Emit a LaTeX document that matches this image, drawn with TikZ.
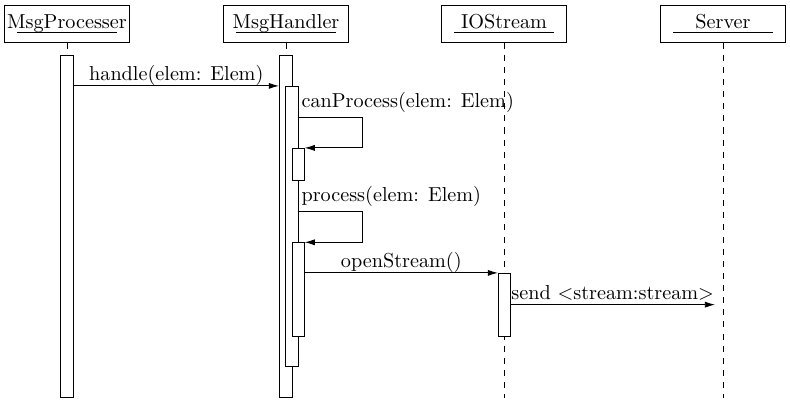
\documentclass[tikz,border=0pt]{standalone}
\usetikzlibrary{fit,arrows.meta}
\begin{document}
\begin{tikzpicture}[x=0.495pt,y=-0.495pt,
    obj/.style={draw,minimum width=61.9pt,minimum height=18.3pt,
        inner xsep=0.5pt,text height=7.5pt,text depth=2.3pt},
    act/.style={draw,fill=white,inner sep=0pt},
    life/.style={dashed},
    msg/.style={-{Latex[length=5pt,width=3pt]}},
    lbl/.style={midway,anchor=base,inner sep=0pt,yshift=2.5pt},
    call/.style={anchor=base west,inner sep=0pt,xshift=1.2pt,yshift=5pt}]
    \useasboundingbox (0,0) rectangle (790,409);
    %% Objects
    \node[obj] (mp) at (67,23.7) {MsgProcesser};
    \node[obj] (mh) at (286,23.7) {MsgHandler};
    \node[obj] (io) at (504,23.7) {IOStream};
    \node[obj] (sv) at (723,23.7) {Server};
    \foreach \o in {mp,mh,io,sv}
        \draw ([shift={(-50,8.6)}]\o.center) -- ++(100,0);
    %% Lifelines
    \coordinate (bot) at (0,398);
    \foreach \o in {mp,mh,io,sv}
        \draw[life] (\o.south) -- (\o.south |- bot);
    %% Activations
    \node[act,fit={(60,55.5) (73.3,397.5)}] (mpA) {};
    \node[act,fit={(279.3,55.5) (292.7,397.5)}] (mhA) {};
    \node[act,fit={(285.7,86.3) (298.3,366.7)}] (mhB) {};
    \node[act,fit={(292.3,148.3) (304.3,180)}] (cp) {};
    \node[act,fit={(292.3,242.7) (304.3,336)}] (pr) {};
    \node[act,fit={(498.3,273.3) (510,336)}] (ioA) {};
    %% Messages
    \draw[msg] (mpA.east |- mhB.north) -- (mhA.west |- mhB.north)
        node[lbl] {handle(elem: Elem)};
    \coordinate (cpL) at (362,117.3);
    \draw[msg] (mhB.east |- cpL) node[call] {canProcess(elem: Elem)}
        -- (cpL) -- (cpL |- cp.north) -- (cp.north east);
    \coordinate (prL) at (362,211.3);
    \draw[msg] (mhB.east |- prL) node[call] {process(elem: Elem)}
        -- (prL) -- (prL |- pr.north) -- (pr.north east);
    \draw[msg] (pr.east |- ioA.north) -- (ioA.north west)
        node[lbl] {openStream()};
    \coordinate (svE) at (715,0);
    \draw[msg] (ioA.east) -- (ioA.east -| svE)
        node[lbl] {send $<$stream:stream$>$};
\end{tikzpicture}
\end{document}
